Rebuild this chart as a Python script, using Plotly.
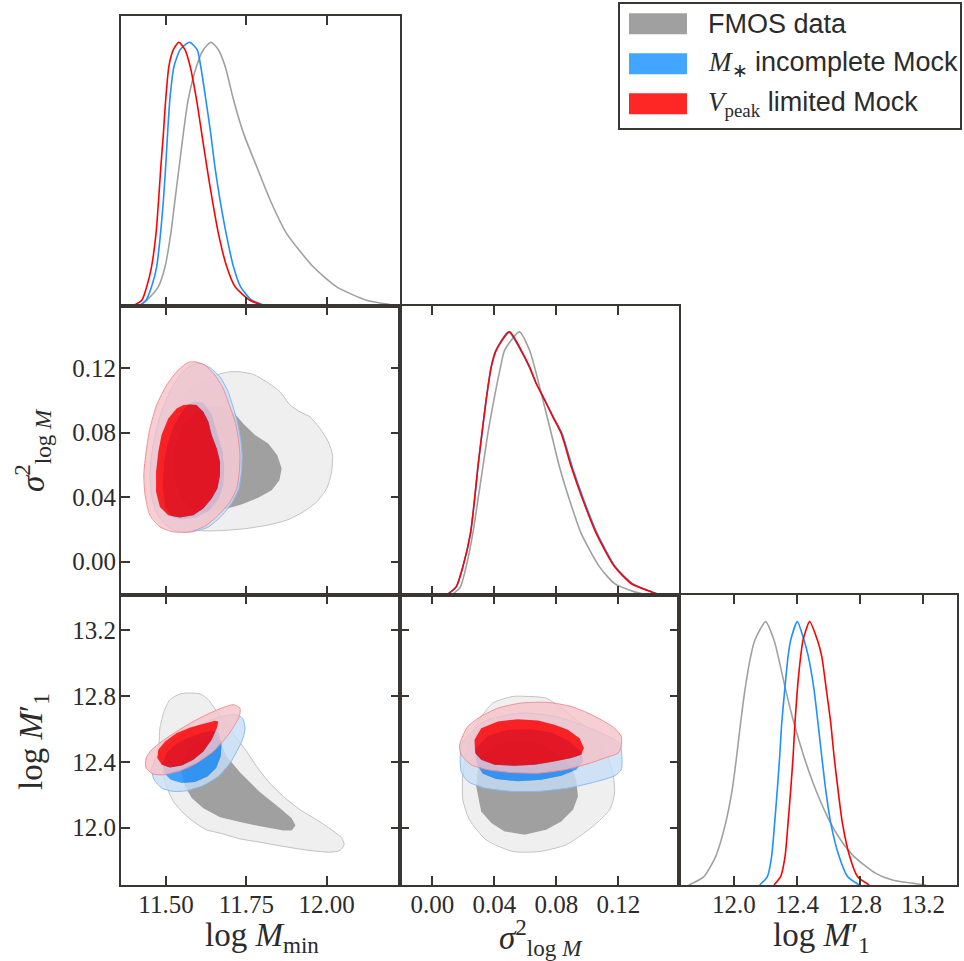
import plotly.graph_objects as go

W, H = 964, 961

# ---------------- tick values / labels ----------------
MMIN_TICKS = [11.50, 11.75, 12.00]
MMIN_TICK_TEXT = ["11.50", "11.75", "12.00"]
SIG_TICKS = [0.00, 0.04, 0.08, 0.12]
SIG_TICK_TEXT = ["0.00", "0.04", "0.08", "0.12"]
M1_TICKS = [12.0, 12.4, 12.8, 13.2]
M1_TICK_TEXT = ["12.0", "12.4", "12.8", "13.2"]

MMIN_RANGE = [11.36, 12.228]
SIG_RANGE = [-0.0208, 0.1588]
M1_RANGE = [11.650, 13.414]
PDF_RANGE = [0.0, 1.10]

SERIES_NAMES = ["FMOS data", "M* incomplete Mock", "Vpeak limited Mock"]

# ---------------- 1D marginal posteriors (peak-normalised) ----------------
MMIN_GRAY_X = [11.419, 11.440, 11.476, 11.497, 11.515, 11.528, 11.541, 11.554, 11.569, 11.595, 11.616, 11.640,
               11.663, 11.684, 11.710, 11.741, 11.782, 11.824, 11.875, 11.958, 12.031, 12.124, 12.218]
MMIN_GRAY_Y = [0.0, 0.020, 0.071, 0.147, 0.274, 0.401, 0.528, 0.655, 0.782, 0.909, 0.972, 1.0,
               0.972, 0.909, 0.782, 0.655, 0.528, 0.401, 0.274, 0.147, 0.071, 0.020, 0.0]
MMIN_BLUE_X = [11.419, 11.438, 11.455, 11.471, 11.483, 11.492, 11.499, 11.505, 11.512, 11.525, 11.544, 11.573,
               11.597, 11.608, 11.624, 11.639, 11.652, 11.668, 11.687, 11.710, 11.732, 11.767, 11.808]
MMIN_BLUE_Y = [0.0, 0.020, 0.071, 0.147, 0.274, 0.401, 0.528, 0.655, 0.782, 0.909, 0.972, 1.0,
               0.972, 0.909, 0.782, 0.655, 0.528, 0.401, 0.274, 0.147, 0.071, 0.020, 0.0]
MMIN_RED_X = [11.398, 11.425, 11.440, 11.455, 11.469, 11.477, 11.484, 11.492, 11.499, 11.509, 11.523, 11.540,
              11.559, 11.575, 11.595, 11.611, 11.627, 11.644, 11.663, 11.689, 11.715, 11.761, 11.803]
MMIN_RED_Y = [0.0, 0.020, 0.071, 0.147, 0.274, 0.401, 0.528, 0.655, 0.782, 0.909, 0.972, 1.0,
              0.972, 0.909, 0.782, 0.655, 0.528, 0.401, 0.274, 0.147, 0.071, 0.020, 0.0]

SIG_GRAY_X = [0.0122, 0.0180, 0.0218, 0.0261, 0.0294, 0.0326, 0.0358, 0.0397, 0.0440, 0.0466, 0.0562, 0.0627,
              0.0659, 0.0713, 0.0767, 0.0820, 0.0885, 0.0960, 0.1078, 0.1175, 0.1304, 0.1390]
SIG_GRAY_Y = [0.0, 0.030, 0.108, 0.234, 0.361, 0.487, 0.614, 0.741, 0.867, 0.930, 1.0, 0.930,
              0.867, 0.741, 0.614, 0.487, 0.361, 0.234, 0.108, 0.044, 0.013, 0.0]
SIG_BLUE_X = [0.0089, 0.0154, 0.0197, 0.0246, 0.0272, 0.0294, 0.0320, 0.0347, 0.0380, 0.0410, 0.0492, 0.0570,
              0.0625, 0.0670, 0.0726, 0.0780, 0.0836, 0.0902, 0.0977, 0.1063, 0.1180, 0.1290, 0.1415, 0.1480]
SIG_BLUE_Y = [0.0, 0.032, 0.108, 0.234, 0.361, 0.487, 0.614, 0.741, 0.867, 0.930, 1.0, 0.930,
              0.867, 0.804, 0.741, 0.677, 0.614, 0.487, 0.361, 0.234, 0.108, 0.044, 0.013, 0.0]
SIG_RED_X = [0.0089, 0.0154, 0.0197, 0.0246, 0.0272, 0.0294, 0.0320, 0.0347, 0.0380, 0.0412, 0.0498, 0.0573,
             0.0627, 0.0670, 0.0724, 0.0777, 0.0831, 0.0896, 0.0971, 0.1057, 0.1175, 0.1283, 0.1412, 0.1476]
SIG_RED_Y = [0.0, 0.032, 0.108, 0.234, 0.361, 0.487, 0.614, 0.741, 0.867, 0.930, 1.0, 0.930,
             0.867, 0.804, 0.741, 0.677, 0.614, 0.487, 0.361, 0.234, 0.108, 0.044, 0.013, 0.0]

M1_GRAY_X = [11.714, 11.810, 11.884, 11.947, 11.989, 12.017, 12.042, 12.070, 12.106, 12.133, 12.201,
             12.254, 12.281, 12.328, 12.381, 12.444, 12.519, 12.614, 12.677, 12.762, 12.899, 13.005, 13.217]
M1_GRAY_Y = [0.0, 0.032, 0.108, 0.234, 0.361, 0.487, 0.614, 0.741, 0.867, 0.930, 1.0,
             0.930, 0.867, 0.741, 0.614, 0.487, 0.361, 0.234, 0.171, 0.108, 0.044, 0.019, 0.0]
M1_BLUE_X = [12.163, 12.212, 12.239, 12.258, 12.275, 12.290, 12.303, 12.322, 12.343, 12.360, 12.402,
             12.444, 12.472, 12.508, 12.533, 12.557, 12.582, 12.614, 12.667, 12.720, 12.794]
M1_BLUE_Y = [0.0, 0.032, 0.108, 0.234, 0.361, 0.487, 0.614, 0.741, 0.867, 0.930, 1.0,
             0.930, 0.867, 0.741, 0.614, 0.487, 0.361, 0.234, 0.108, 0.032, 0.0]
M1_RED_X = [12.254, 12.296, 12.324, 12.343, 12.360, 12.375, 12.387, 12.402, 12.423, 12.438, 12.480,
            12.529, 12.557, 12.586, 12.614, 12.635, 12.660, 12.688, 12.734, 12.783, 12.857]
M1_RED_Y = [0.0, 0.032, 0.108, 0.234, 0.361, 0.487, 0.614, 0.741, 0.867, 0.930, 1.0,
            0.930, 0.867, 0.741, 0.614, 0.487, 0.361, 0.234, 0.108, 0.032, 0.0]

# ---------------- 2D credible contours (68% / 95%) ----------------
# (log M_min, sigma^2_logM)
MMIN_SIG_GRAY_95 = [(11.699, 0.1177), (11.730, 0.1177), (11.772, 0.1161), (11.813, 0.1115), (11.855, 0.1053),
                    (11.886, 0.0971), (11.917, 0.0929), (11.948, 0.0898), (11.979, 0.0826), (12.005, 0.0743),
                    (12.018, 0.0661), (12.015, 0.0557), (12.000, 0.0454), (11.969, 0.0371), (11.927, 0.0309),
                    (11.875, 0.0257), (11.813, 0.0226), (11.751, 0.0206), (11.689, 0.0195), (11.626, 0.0191),
                    (11.575, 0.0202), (11.554, 0.0247), (11.518, 0.0330), (11.494, 0.0433), (11.486, 0.0557),
                    (11.486, 0.0681), (11.497, 0.0805), (11.518, 0.0919), (11.549, 0.1012), (11.595, 0.1095),
                    (11.647, 0.1152)]
MMIN_SIG_GRAY_68 = [(11.668, 0.0960), (11.709, 0.0929), (11.740, 0.0857), (11.777, 0.0785), (11.818, 0.0733),
                    (11.846, 0.0661), (11.860, 0.0578), (11.853, 0.0505), (11.829, 0.0443), (11.787, 0.0396),
                    (11.735, 0.0355), (11.683, 0.0326), (11.626, 0.0309), (11.585, 0.0326), (11.549, 0.0392),
                    (11.528, 0.0495), (11.523, 0.0619), (11.533, 0.0743), (11.554, 0.0847), (11.595, 0.0929),
                    (11.637, 0.0960)]
MMIN_SIG_BLUE_95 = [(11.606, 0.1229), (11.637, 0.1202), (11.668, 0.1146), (11.691, 0.1064), (11.707, 0.0971),
                    (11.722, 0.0867), (11.732, 0.0764), (11.737, 0.0661), (11.735, 0.0557), (11.727, 0.0454),
                    (11.706, 0.0367), (11.675, 0.0288), (11.632, 0.0216), (11.580, 0.0185), (11.533, 0.0191),
                    (11.497, 0.0231), (11.471, 0.0299), (11.455, 0.0413), (11.450, 0.0537), (11.455, 0.0661),
                    (11.466, 0.0785), (11.486, 0.0929), (11.512, 0.1053), (11.543, 0.1157), (11.575, 0.1214)]
MMIN_SIG_BLUE_68 = [(11.585, 0.0991), (11.616, 0.0987), (11.642, 0.0913), (11.660, 0.0795), (11.676, 0.0681),
                    (11.681, 0.0578), (11.678, 0.0475), (11.663, 0.0388), (11.632, 0.0313), (11.590, 0.0272),
                    (11.549, 0.0262), (11.518, 0.0274), (11.497, 0.0340), (11.490, 0.0475), (11.494, 0.0619),
                    (11.504, 0.0723), (11.523, 0.0836), (11.549, 0.0929), (11.569, 0.0975)]
MMIN_SIG_RED_95 = [(11.590, 0.1239), (11.621, 0.1219), (11.652, 0.1157), (11.678, 0.1074), (11.697, 0.0971),
                   (11.715, 0.0867), (11.725, 0.0764), (11.730, 0.0661), (11.728, 0.0557), (11.720, 0.0454),
                   (11.699, 0.0371), (11.668, 0.0299), (11.626, 0.0226), (11.575, 0.0185), (11.523, 0.0185),
                   (11.481, 0.0216), (11.450, 0.0288), (11.435, 0.0413), (11.431, 0.0537), (11.438, 0.0681),
                   (11.450, 0.0826), (11.471, 0.0971), (11.502, 0.1095), (11.538, 0.1188), (11.569, 0.1235)]
MMIN_SIG_RED_68 = [(11.575, 0.0975), (11.595, 0.0971), (11.616, 0.0929), (11.632, 0.0867), (11.642, 0.0785),
                   (11.658, 0.0702), (11.668, 0.0619), (11.668, 0.0536), (11.660, 0.0454), (11.642, 0.0392),
                   (11.616, 0.0330), (11.585, 0.0288), (11.543, 0.0274), (11.507, 0.0288), (11.481, 0.0340),
                   (11.469, 0.0433), (11.469, 0.0557), (11.476, 0.0681), (11.486, 0.0785), (11.507, 0.0888),
                   (11.533, 0.0950), (11.554, 0.0971)]

# (log M_min, log M1')
MMIN_M1_GRAY_95 = [(11.580, 12.819), (11.606, 12.814), (11.632, 12.778), (11.658, 12.707), (11.689, 12.626),
                   (11.720, 12.544), (11.751, 12.463), (11.782, 12.372), (11.818, 12.281), (11.865, 12.189),
                   (11.917, 12.108), (11.969, 12.047), (12.015, 11.986), (12.047, 11.936), (12.054, 11.895),
                   (12.041, 11.860), (12.010, 11.850), (11.948, 11.860), (11.865, 11.885), (11.792, 11.911),
                   (11.730, 11.931), (11.668, 11.966), (11.626, 11.986), (11.585, 12.037), (11.554, 12.088),
                   (11.523, 12.159), (11.502, 12.250), (11.487, 12.362), (11.479, 12.484), (11.481, 12.605),
                   (11.494, 12.707), (11.512, 12.778), (11.544, 12.814)]
MMIN_M1_GRAY_68 = [(11.658, 12.565), (11.689, 12.433), (11.730, 12.337), (11.792, 12.216), (11.855, 12.118),
                   (11.891, 12.057), (11.903, 12.013), (11.891, 11.982), (11.865, 11.982), (11.792, 12.007),
                   (11.730, 12.033), (11.668, 12.063), (11.616, 12.118), (11.580, 12.179), (11.559, 12.250),
                   (11.549, 12.331), (11.554, 12.413), (11.575, 12.484), (11.616, 12.544)]
MMIN_M1_BLUE_95 = [(11.720, 12.687), (11.738, 12.666), (11.746, 12.605), (11.738, 12.534), (11.720, 12.463),
                   (11.699, 12.392), (11.663, 12.311), (11.616, 12.256), (11.564, 12.224), (11.523, 12.220),
                   (11.487, 12.240), (11.463, 12.291), (11.455, 12.352), (11.466, 12.413), (11.492, 12.473),
                   (11.533, 12.540), (11.585, 12.605), (11.637, 12.652), (11.684, 12.681)]
MMIN_M1_BLUE_68 = [(11.663, 12.585), (11.673, 12.514), (11.670, 12.433), (11.656, 12.362), (11.629, 12.311),
                   (11.590, 12.277), (11.549, 12.271), (11.515, 12.291), (11.494, 12.331), (11.490, 12.392),
                   (11.502, 12.453), (11.528, 12.504), (11.564, 12.544), (11.611, 12.575), (11.642, 12.589)]
MMIN_M1_RED_95 = [(11.710, 12.748), (11.730, 12.727), (11.728, 12.676), (11.694, 12.565), (11.647, 12.463),
                  (11.595, 12.392), (11.544, 12.346), (11.492, 12.321), (11.461, 12.325), (11.438, 12.362),
                  (11.438, 12.423), (11.455, 12.473), (11.487, 12.524), (11.533, 12.585), (11.585, 12.646),
                  (11.637, 12.697), (11.678, 12.731)]
MMIN_M1_RED_68 = [(11.663, 12.646), (11.658, 12.605), (11.642, 12.534), (11.616, 12.463), (11.585, 12.413),
                  (11.549, 12.378), (11.512, 12.366), (11.487, 12.382), (11.473, 12.423), (11.476, 12.473),
                  (11.497, 12.524), (11.533, 12.575), (11.575, 12.609), (11.621, 12.636), (11.652, 12.650)]

# (sigma^2_logM, log M1')
SIG_M1_GRAY_95 = [(0.0519, 12.798), (0.0390, 12.758), (0.0304, 12.656), (0.0229, 12.494), (0.0197, 12.331),
                  (0.0197, 12.169), (0.0240, 12.047), (0.0347, 11.925), (0.0519, 11.854), (0.0691, 11.854),
                  (0.0863, 11.895), (0.1035, 12.007), (0.1143, 12.108), (0.1175, 12.210), (0.1164, 12.331),
                  (0.1121, 12.453), (0.1035, 12.575), (0.0928, 12.656), (0.0820, 12.737), (0.0734, 12.788),
                  (0.0627, 12.798)]
SIG_M1_GRAY_68 = [(0.0283, 12.250), (0.0294, 12.352), (0.0315, 12.433), (0.0380, 12.494), (0.0487, 12.524),
                  (0.0616, 12.524), (0.0745, 12.494), (0.0831, 12.433), (0.0896, 12.362), (0.0928, 12.291),
                  (0.0939, 12.189), (0.0907, 12.108), (0.0831, 12.037), (0.0734, 11.986), (0.0595, 11.956),
                  (0.0466, 11.976), (0.0380, 12.027), (0.0315, 12.098)]
SIG_M1_BLUE_95 = [(0.0197, 12.524), (0.0337, 12.646), (0.0573, 12.697), (0.0788, 12.677), (0.0960, 12.626),
                  (0.1089, 12.575), (0.1207, 12.514), (0.1222, 12.433), (0.1218, 12.352), (0.1175, 12.315),
                  (0.1046, 12.277), (0.0874, 12.240), (0.0681, 12.220), (0.0509, 12.220), (0.0337, 12.240),
                  (0.0229, 12.281), (0.0186, 12.342), (0.0180, 12.433)]
SIG_M1_BLUE_68 = [(0.0283, 12.484), (0.0358, 12.559), (0.0487, 12.595), (0.0638, 12.599), (0.0767, 12.579),
                  (0.0874, 12.530), (0.0960, 12.463), (0.0971, 12.402), (0.0928, 12.352), (0.0831, 12.315),
                  (0.0702, 12.291), (0.0552, 12.281), (0.0412, 12.295), (0.0326, 12.327), (0.0289, 12.382),
                  (0.0278, 12.433)]
SIG_M1_RED_95 = [(0.0175, 12.494), (0.0186, 12.534), (0.0229, 12.616), (0.0315, 12.677), (0.0423, 12.727),
                 (0.0573, 12.758), (0.0745, 12.762), (0.0896, 12.737), (0.1003, 12.697), (0.1089, 12.656),
                 (0.1175, 12.605), (0.1218, 12.555), (0.1218, 12.494), (0.1197, 12.453), (0.1111, 12.423),
                 (0.1003, 12.388), (0.0853, 12.352), (0.0681, 12.331), (0.0509, 12.335), (0.0358, 12.352),
                 (0.0251, 12.382), (0.0186, 12.443)]
SIG_M1_RED_68 = [(0.0272, 12.534), (0.0315, 12.605), (0.0423, 12.646), (0.0552, 12.660), (0.0681, 12.652),
                 (0.0788, 12.626), (0.0874, 12.595), (0.0949, 12.544), (0.0977, 12.484), (0.0960, 12.443),
                 (0.0896, 12.423), (0.0788, 12.402), (0.0659, 12.382), (0.0530, 12.376), (0.0401, 12.382),
                 (0.0315, 12.413), (0.0276, 12.453)]

# ---------------- styles ----------------
AX = "#3a3633"
TXT = "#2b2b2b"
SERIF = "Liberation Serif"
SANS = "Liberation Sans"

STYLE = {
    "gray": dict(line="rgb(160,160,160)", out="rgb(239,239,239)", inn="rgb(160,160,160)",
                 edge="rgb(192,192,192)", patch="rgb(160,160,160)"),
    "blue": dict(line="rgb(30,144,255)", out="rgba(199,221,246,0.80)", inn="rgba(30,144,255,0.85)",
                 edge="rgb(135,185,240)", patch="rgb(66,165,255)"),
    "red": dict(line="rgb(255,0,0)", out="rgba(245,194,199,0.80)", inn="rgba(255,0,0,0.85)",
                edge="rgb(240,140,150)", patch="rgb(255,38,38)"),
}


def signed_area(pts):
    s = 0.0
    n = len(pts)
    for i in range(n):
        x1, y1 = pts[i]
        x2, y2 = pts[(i + 1) % n]
        s += x1 * y2 - x2 * y1
    return s


def ring(outer, inner):
    o = list(outer) + [outer[0]]
    i = list(inner)
    if (signed_area(outer) > 0) == (signed_area(inner) > 0):
        i = i[::-1]
    i = i + [i[0]]
    xs = [p[0] for p in o] + [None] + [p[0] for p in i]
    ys = [p[1] for p in o] + [None] + [p[1] for p in i]
    return xs, ys


def closed(pts):
    p = list(pts) + [pts[0]]
    return [q[0] for q in p], [q[1] for q in p]


fig = go.Figure()


def add_contours(xa, ya, c95, c68, key):
    st = STYLE[key]
    rx, ry = ring(c95, c68)
    fig.add_trace(go.Scatter(x=rx, y=ry, mode="lines", fill="toself", fillcolor=st["out"],
                             line=dict(width=0, color=st["out"]), xaxis=xa, yaxis=ya,
                             hoverinfo="skip", showlegend=False))
    ix, iy = closed(c68)
    fig.add_trace(go.Scatter(x=ix, y=iy, mode="lines", fill="toself", fillcolor=st["inn"],
                             line=dict(width=0, color=st["inn"]), xaxis=xa, yaxis=ya,
                             hoverinfo="skip", showlegend=False))
    ox, oy = closed(c95)
    fig.add_trace(go.Scatter(x=ox, y=oy, mode="lines", line=dict(width=1, color=st["edge"], shape="spline",
                                                                  smoothing=0.6),
                             xaxis=xa, yaxis=ya, hoverinfo="skip", showlegend=False))


def add_pdf(xa, ya, x, y, key):
    fig.add_trace(go.Scatter(x=x, y=y, mode="lines",
                             line=dict(width=1.6, color=STYLE[key]["line"], shape="spline", smoothing=0.6),
                             xaxis=xa, yaxis=ya, hoverinfo="skip", showlegend=False))


# Panel A: log Mmin marginal
add_pdf("x", "y", MMIN_GRAY_X, MMIN_GRAY_Y, "gray")
add_pdf("x", "y", MMIN_BLUE_X, MMIN_BLUE_Y, "blue")
add_pdf("x", "y", MMIN_RED_X, MMIN_RED_Y, "red")
# Panel B: (log Mmin, sigma^2)
add_contours("x2", "y2", MMIN_SIG_GRAY_95, MMIN_SIG_GRAY_68, "gray")
add_contours("x2", "y2", MMIN_SIG_BLUE_95, MMIN_SIG_BLUE_68, "blue")
add_contours("x2", "y2", MMIN_SIG_RED_95, MMIN_SIG_RED_68, "red")
# Panel C: (log Mmin, log M1')
add_contours("x3", "y3", MMIN_M1_GRAY_95, MMIN_M1_GRAY_68, "gray")
add_contours("x3", "y3", MMIN_M1_BLUE_95, MMIN_M1_BLUE_68, "blue")
add_contours("x3", "y3", MMIN_M1_RED_95, MMIN_M1_RED_68, "red")
# Panel D: sigma^2 marginal
add_pdf("x4", "y4", SIG_GRAY_X, SIG_GRAY_Y, "gray")
add_pdf("x4", "y4", SIG_BLUE_X, SIG_BLUE_Y, "blue")
add_pdf("x4", "y4", SIG_RED_X, SIG_RED_Y, "red")
# Panel E: (sigma^2, log M1')
add_contours("x5", "y5", SIG_M1_GRAY_95, SIG_M1_GRAY_68, "gray")
add_contours("x5", "y5", SIG_M1_BLUE_95, SIG_M1_BLUE_68, "blue")
add_contours("x5", "y5", SIG_M1_RED_95, SIG_M1_RED_68, "red")
# Panel F: log M1' marginal
add_pdf("x6", "y6", M1_GRAY_X, M1_GRAY_Y, "gray")
add_pdf("x6", "y6", M1_BLUE_X, M1_BLUE_Y, "blue")
add_pdf("x6", "y6", M1_RED_X, M1_RED_Y, "red")


def px_x(p):
    return p / W


def px_y(p):
    return 1 - p / H


COL = [(121, 400), (400, 678.7), (678.7, 957)]
ROW = [(16, 305.5), (305.5, 595.3), (595.3, 885)]


def xdom(c):
    return [px_x(COL[c][0]), px_x(COL[c][1])]


def ydom(r):
    return [px_y(ROW[r][1]), px_y(ROW[r][0])]


def axis(dom, rng, anchor, tickvals=None, ticktext=None, labels=False, ticks=True, standoff=-4):
    d = dict(domain=dom, range=rng, anchor=anchor, showgrid=False, zeroline=False,
             showline=True, linecolor=AX, linewidth=2, fixedrange=True,
             tickfont=dict(family=SERIF, size=25, color=TXT))
    if ticks:
        d.update(mirror="ticks", ticks="inside", ticklen=9, tickwidth=1.5, tickcolor=AX,
                 tickmode="array", tickvals=tickvals, ticktext=ticktext,
                 showticklabels=labels, ticklabelstandoff=standoff)
    else:
        d.update(mirror=True, ticks="", showticklabels=False)
    return d


layout = dict(
    width=W, height=H, margin=dict(l=0, r=0, t=0, b=0),
    paper_bgcolor="white", plot_bgcolor="white", showlegend=False,
    # A
    xaxis=axis(xdom(0), MMIN_RANGE, "y", MMIN_TICKS, MMIN_TICK_TEXT, False),
    yaxis=axis(ydom(0), PDF_RANGE, "x", ticks=False),
    # B
    xaxis2=axis(xdom(0), MMIN_RANGE, "y2", MMIN_TICKS, MMIN_TICK_TEXT, False),
    yaxis2=axis(ydom(1), SIG_RANGE, "x2", SIG_TICKS, SIG_TICK_TEXT, True, standoff=-2),
    # C
    xaxis3=axis(xdom(0), MMIN_RANGE, "y3", MMIN_TICKS, MMIN_TICK_TEXT, True),
    yaxis3=axis(ydom(2), M1_RANGE, "x3", M1_TICKS, M1_TICK_TEXT, True, standoff=-2),
    # D
    xaxis4=axis(xdom(1), SIG_RANGE, "y4", SIG_TICKS, SIG_TICK_TEXT, False),
    yaxis4=axis(ydom(1), PDF_RANGE, "x4", ticks=False),
    # E
    xaxis5=axis(xdom(1), SIG_RANGE, "y5", SIG_TICKS, SIG_TICK_TEXT, True),
    yaxis5=axis(ydom(2), M1_RANGE, "x5", M1_TICKS, M1_TICK_TEXT, False),
    # F
    xaxis6=axis(xdom(2), M1_RANGE, "y6", M1_TICKS, M1_TICK_TEXT, True),
    yaxis6=axis(ydom(2), PDF_RANGE, "x6", ticks=False),
)
fig.update_layout(**layout)

# ---------------- axis titles ----------------
TITLE_MMIN = "log <i>M</i><sub>min</sub>"
TITLE_SIG = "<i>σ</i><sup>2</sup><sub>log <i>M</i></sub>"
TITLE_M1 = "log <i>M</i>′<sub>1</sub>"

title_font = dict(family=SERIF, size=33, color=TXT)
for txt, cx, cy in [(TITLE_MMIN, 262, 937), (TITLE_SIG, 541, 937), (TITLE_M1, 821, 937)]:
    fig.add_annotation(text=txt, x=px_x(cx), y=px_y(cy), xref="paper", yref="paper",
                       xanchor="center", yanchor="middle", showarrow=False, font=title_font)
for txt, cx, cy in [(TITLE_SIG, 32, 450), (TITLE_M1, 33, 742)]:
    fig.add_annotation(text=txt, x=px_x(cx), y=px_y(cy), xref="paper", yref="paper",
                       xanchor="center", yanchor="middle", showarrow=False, font=title_font,
                       textangle=-90)

# ---------------- legend ----------------
LEG_BOX = (619, 3, 961, 129)
fig.add_shape(type="rect", xref="paper", yref="paper",
              x0=px_x(LEG_BOX[0]), x1=px_x(LEG_BOX[2]), y0=px_y(LEG_BOX[3]), y1=px_y(LEG_BOX[1]),
              line=dict(color=AX, width=2), fillcolor="white", layer="above")
LEG_LABELS = [
    "FMOS data",
    '<span style="font-family:Liberation Serif"><i>M</i><sub>∗</sub></span> incomplete Mock',
    '<span style="font-family:Liberation Serif"><i>V</i><sub>peak</sub></span> limited Mock',
]
LEG_KEYS = ["gray", "blue", "red"]
for k, (lab, key) in enumerate(zip(LEG_LABELS, LEG_KEYS)):
    yc = 23.7 + k * 40
    fig.add_shape(type="rect", xref="paper", yref="paper",
                  x0=px_x(629), x1=px_x(687), y0=px_y(yc + 10.5), y1=px_y(yc - 10.5),
                  line=dict(width=0), fillcolor=STYLE[key]["patch"], layer="above")
    fig.add_annotation(text=lab, x=px_x(706), y=px_y(yc), xref="paper", yref="paper",
                       xanchor="left", yanchor="middle", showarrow=False,
                       font=dict(family=SANS, size=27, color=TXT))

fig.write_html("out.html")
